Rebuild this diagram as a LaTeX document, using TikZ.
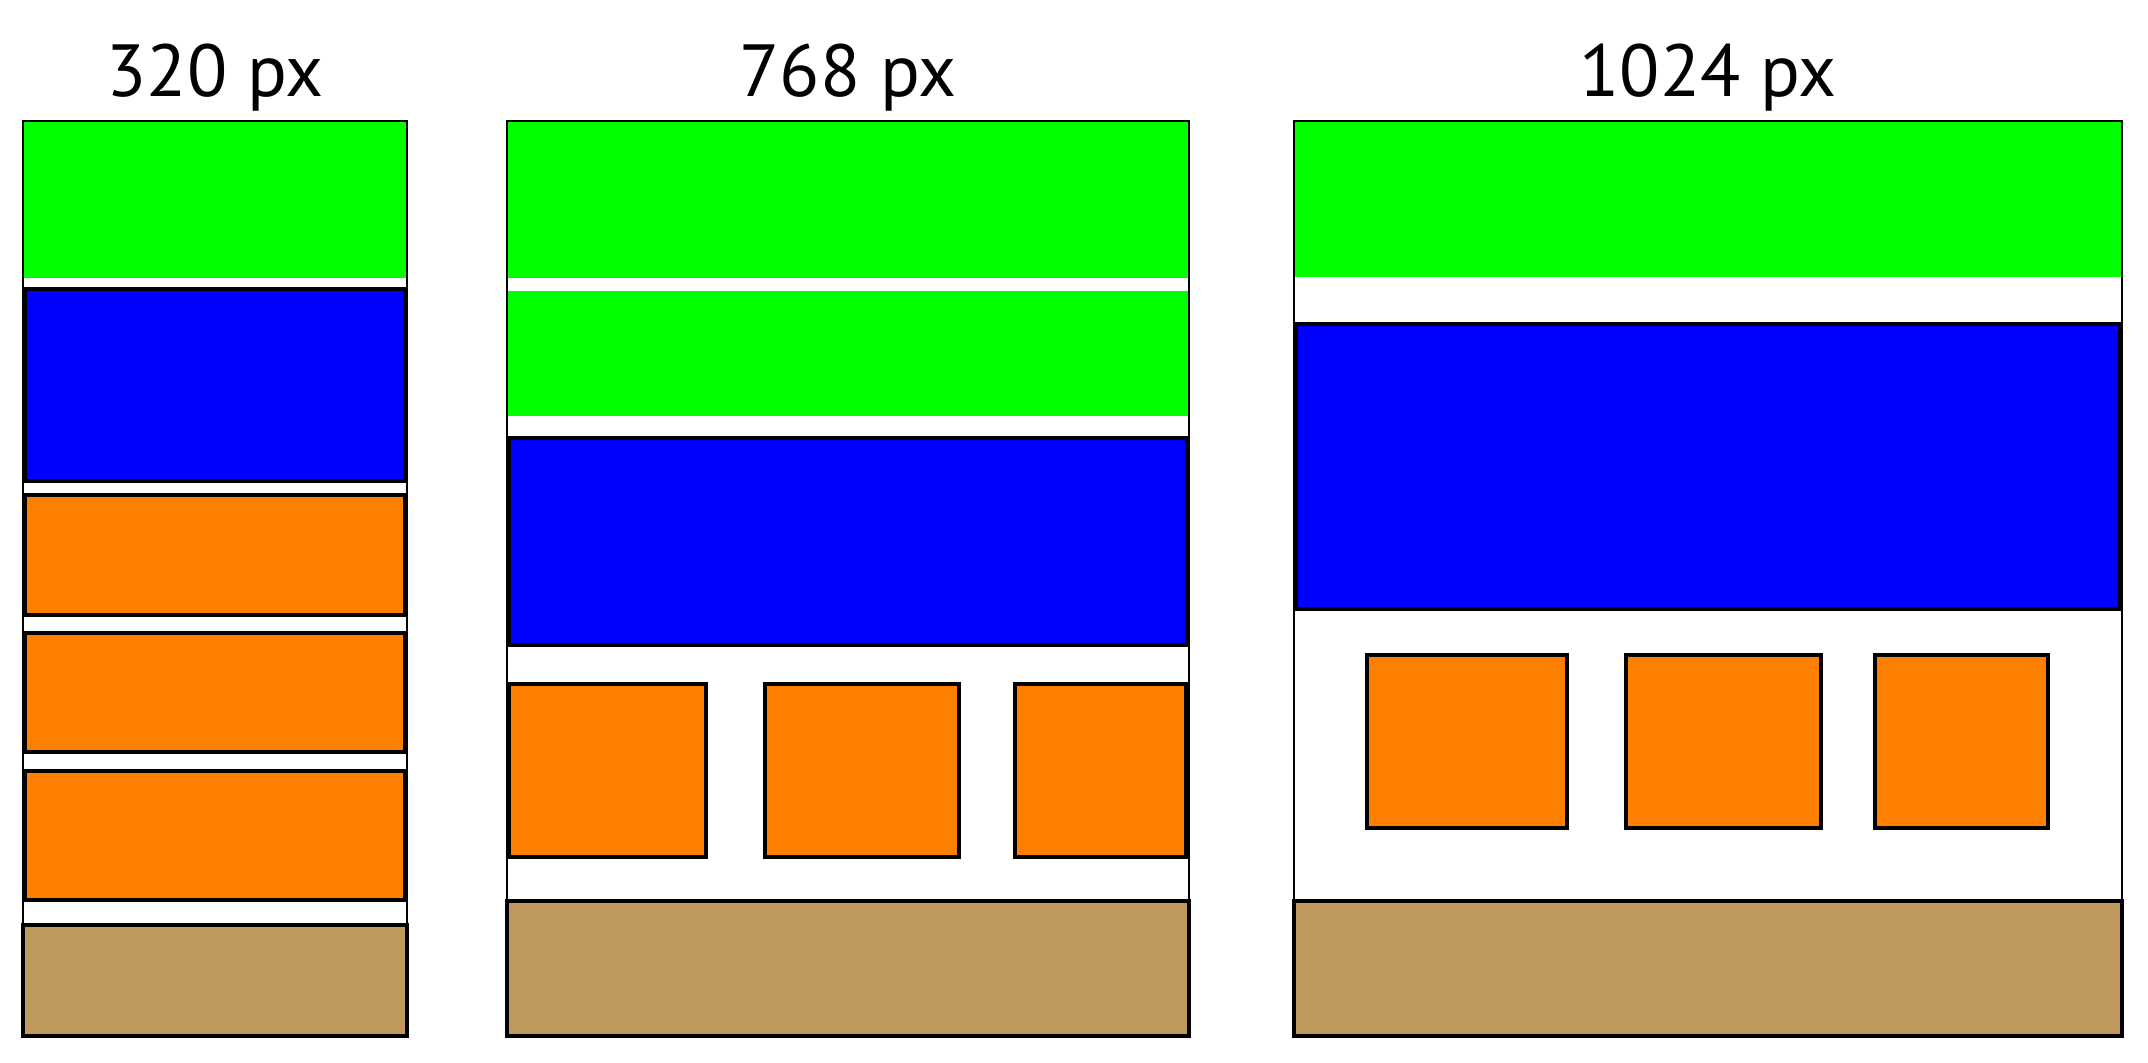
\documentclass[tikz,border=0pt]{standalone}
\usepackage{fontspec}
\setmainfont{PT Sans}
\usepackage{tikz}
\definecolor{webgreen}{RGB}{0, 255, 0}
\definecolor{webblue}{RGB}{0, 0, 255}
\definecolor{weborange}{RGB}{255, 128, 0}
\definecolor{webbrown}{RGB}{191, 153, 91}
\tikzset{
    frame/.style={draw=black, line width=0.75pt},
    headbar/.style={fill=webgreen},
    navbar/.style={fill=webblue, draw=black, line width=1.1pt},
    tile/.style={fill=weborange, draw=black, line width=1.1pt},
    footbar/.style={fill=webbrown, draw=black, line width=1.1pt},
    widthlabel/.style={anchor=base, inner sep=0pt, font=\fontsize{21}{25}\selectfont}
}

\begin{document}
\begin{tikzpicture}[x=0.01cm, y=-0.01cm]
        \useasboundingbox (0,0) rectangle (2148,1062);
        % 320 px
        \node (small) [widthlabel] at (215,96) {320 px};
        \fill[headbar] (23,121) rectangle (407,278);
        \draw[navbar] (25,289) rectangle (405,481);
        \draw[tile] (25,495) rectangle (405,615);
        \draw[tile] (25,633) rectangle (405,752);
        \draw[tile] (25,771) rectangle (405,900);
        \draw[footbar] (23,925) rectangle (407,1036);
        \draw[frame] (23,121) rectangle (407,1036);
        % 768 px
        \node (medium) [widthlabel] at (848,96) {768 px};
        \fill[headbar] (507,121) rectangle (1189,278);
        \fill[headbar] (507,291) rectangle (1189,416);
        \draw[navbar] (509,438) rectangle (1187,645);
        \draw[tile] (509,684) rectangle (706,857);
        \draw[tile] (765,684) rectangle (959,857);
        \draw[tile] (1015,684) rectangle (1186,857);
        \draw[footbar] (507,901) rectangle (1189,1036);
        \draw[frame] (507,121) rectangle (1189,1036);
        % 1024 px
        \node (large) [widthlabel] at (1708,96) {1024 px};
        \fill[headbar] (1294,121) rectangle (2122,277);
        \draw[navbar] (1296,324) rectangle (2120,609);
        \draw[tile] (1367,655) rectangle (1567,828);
        \draw[tile] (1626,655) rectangle (1821,828);
        \draw[tile] (1875,655) rectangle (2048,828);
        \draw[footbar] (1294,901) rectangle (2122,1036);
        \draw[frame] (1294,121) rectangle (2122,1036);
    \end{tikzpicture}
\end{document}
